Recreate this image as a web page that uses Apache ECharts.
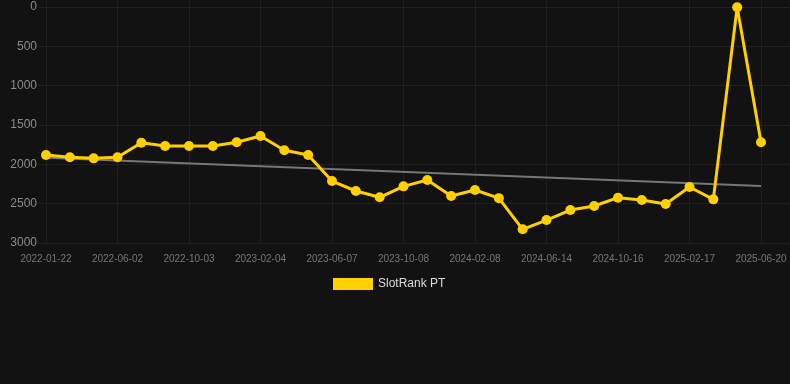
<!DOCTYPE html>
<html>
<head>
<meta charset="utf-8">
<script src="https://cdn.jsdelivr.net/npm/echarts@6/dist/echarts.min.js"></script>
<style>
html,body{margin:0;padding:0;background:#121212;}
#chart{width:790px;height:384px;}
</style>
</head>
<body>
<div id="chart"></div>
<script>
var categories = ['2022-01-22','2022-03-05','2022-04-18','2022-06-02','2022-07-13','2022-08-23','2022-10-03','2022-11-13','2022-12-24','2023-02-04','2023-03-17','2023-04-27','2023-06-07','2023-07-18','2023-08-28','2023-10-08','2023-11-18','2023-12-29','2024-02-08','2024-03-20','2024-05-02','2024-06-14','2024-07-25','2024-09-04','2024-10-16','2024-11-26','2025-01-06','2025-02-17','2025-03-30','2025-05-10','2025-06-20'];
var rankValues = [1881,1911,1924,1911,1725,1767,1767,1767,1720,1640,1822,1881,2212,2339,2419,2280,2199,2403,2326,2430,2826,2708,2581,2530,2424,2453,2504,2288,2445,3,1720];
var trendStart = 1915;
var trendEnd = 2275;
var seriesName = 'SlotRank PT';

var gridColor = '#202020';
var chart = echarts.init(document.getElementById('chart'));
chart.setOption({
  backgroundColor: '#121212',
  animation: false,
  legend: {
    data: [seriesName],
    top: 278,
    left: 333,
    icon: 'rect',
    itemWidth: 40,
    itemHeight: 12,
    itemGap: 10,
    padding: 0,
    textStyle: {color: '#dddddd', fontSize: 12, fontFamily: 'Liberation Sans, Arial, sans-serif'}
  },
  grid: {left: 46, right: 29, top: 7, bottom: 141, containLabel: false},
  xAxis: [{
    type: 'category',
    data: categories,
    boundaryGap: false,
    axisLine: {show: false},
    axisTick: {show: true, length: 9, interval: 2, lineStyle: {color: gridColor}},
    axisLabel: {interval: 2, color: '#777777', fontSize: 10, margin: 11, fontFamily: 'Liberation Sans, Arial, sans-serif'},
    splitLine: {show: true, interval: 2, lineStyle: {color: gridColor, width: 1}}
  }, {
    type: 'category',
    data: categories,
    boundaryGap: false,
    position: 'top',
    axisLine: {show: false},
    axisTick: {show: true, length: 7, interval: 2, lineStyle: {color: gridColor}},
    axisLabel: {show: false},
    splitLine: {show: false}
  }],
  yAxis: [{
    type: 'value',
    inverse: true,
    min: 0,
    max: 3000,
    interval: 500,
    axisLine: {show: false},
    axisTick: {show: true, length: 8, lineStyle: {color: gridColor}},
    axisLabel: {color: '#8c8c8c', fontSize: 12, margin: 9, fontFamily: 'Liberation Sans, Arial, sans-serif',
      formatter: function (v) { return String(v); }},
    splitLine: {show: true, lineStyle: {color: gridColor, width: 1}}
  }, {
    type: 'value',
    inverse: true,
    position: 'right',
    min: 0,
    max: 3000,
    interval: 500,
    axisLine: {show: false},
    axisTick: {show: true, length: 29, lineStyle: {color: gridColor}},
    axisLabel: {show: false},
    splitLine: {show: false}
  }],
  series: [{
    name: 'trend',
    type: 'line',
    data: [[0, trendStart], [categories.length - 1, trendEnd]],
    symbol: 'none',
    lineStyle: {color: '#777777', width: 2},
    z: 1,
    silent: true
  }, {
    name: seriesName,
    type: 'line',
    data: rankValues,
    symbol: 'circle',
    symbolSize: 10,
    itemStyle: {color: '#FFD000'},
    lineStyle: {color: '#FFD000', width: 3},
    z: 3
  }]
});
</script>
</body>
</html>
